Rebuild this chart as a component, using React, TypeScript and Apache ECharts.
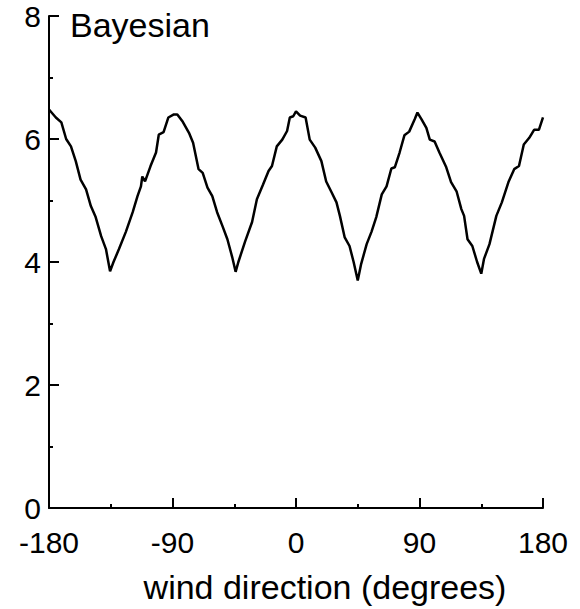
import React, { useEffect, useRef } from "react";
import * as echarts from "echarts";

const windDirection = [
  -180, -175, -171, -167.5, -164, -160.5, -157, -153, -149.5, -146, -142, -138.5, -135.5, -133,
  -129, -124, -119, -115.5, -113, -112, -110, -106, -102, -100, -96.5, -93, -89, -86.5, -82.5,
  -78, -75, -71, -68, -64.5, -61, -57.5, -53.5, -50, -46.5, -44, -42, -37, -32, -28.5, -24, -20,
  -17.5, -14, -10, -6.5, -4.5, -2, 0, 3, 7, 10, 14, 18.5, 22, 26, 29.5, 32, 35.5, 39, 42, 45,
  47.5, 51.5, 55, 58.5, 62.5, 66, 69.5, 72, 75.5, 79, 82.5, 86.5, 88.5, 91.5, 95, 97.5, 101,
  104.5, 109.5, 113, 117, 120.5, 122.5, 125, 128.5, 132, 135, 137, 141, 146, 150, 155, 159,
  162.5, 166, 170, 173.5, 177, 180,
];

const bayesianValue = [
  6.48, 6.35, 6.27, 6.0, 5.88, 5.64, 5.34, 5.18, 4.91, 4.73, 4.42, 4.21, 3.85, 4.0,
  4.21, 4.49, 4.81, 5.07, 5.23, 5.39, 5.31, 5.56, 5.78, 6.07, 6.11, 6.35, 6.4, 6.4, 6.28,
  6.1, 5.94, 5.51, 5.45, 5.21, 5.07, 4.81, 4.58, 4.37, 4.08, 3.84, 4.0, 4.34, 4.65, 5.02, 5.26, 5.48,
  5.56, 5.88, 5.99, 6.13, 6.35, 6.37, 6.45, 6.38, 6.35, 5.99, 5.86, 5.64, 5.31, 5.13, 4.97, 4.75, 4.4, 4.26, 4.0, 3.7,
  3.97, 4.29, 4.49, 4.73, 5.1, 5.23, 5.52, 5.54, 5.78, 6.06, 6.12, 6.32, 6.43, 6.32, 6.18, 5.99, 5.96,
  5.78, 5.54, 5.3, 5.15, 4.86, 4.75, 4.37, 4.26, 4.0, 3.81, 4.05, 4.29, 4.75, 4.97, 5.31, 5.51,
  5.56, 5.91, 6.02, 6.15, 6.15, 6.35,
];

const xTicks = { min: -180, max: 180, interval: 90 };
const yTicks = { min: 0, max: 8, interval: 2 };

const panelTitle = "Bayesian";
const xAxisTitle = "wind direction (degrees)";

const FONT = "'Liberation Sans', Arial, Helvetica, sans-serif";

export default function App() {
  const ref = useRef<HTMLDivElement>(null);

  useEffect(() => {
    if (!ref.current) return;
    const chart = echarts.init(ref.current, undefined, { renderer: "svg" });
    const data = windDirection.map((d, i) => [d, bayesianValue[i]]);
    const axisCommon = {
      axisLine: { show: true, onZero: false, lineStyle: { color: "#000", width: 2 } },
      axisTick: { show: true, inside: true, length: 10, lineStyle: { color: "#000", width: 2 } },
      minorTick: { show: true, splitNumber: 2, length: 4, lineStyle: { color: "#000", width: 2 } },
      splitLine: { show: false },
      minorSplitLine: { show: false },
    };
    chart.setOption({
      animation: false,
      backgroundColor: "#fff",
      grid: { left: 49, right: 37, top: 16, bottom: 99, containLabel: false },
      xAxis: {
        type: "value",
        ...xTicks,
        ...axisCommon,
        axisLabel: { fontSize: 30, color: "#000", margin: 19, fontFamily: FONT },
        name: xAxisTitle,
        nameLocation: "middle",
        nameGap: 62,
        nameTextStyle: { fontSize: 34, color: "#000", fontFamily: FONT, padding: [0, 0, 0, 58] },
      },
      yAxis: {
        type: "value",
        ...yTicks,
        ...axisCommon,
        axisLabel: { fontSize: 30, color: "#000", margin: 8, fontFamily: FONT },
      },
      graphic: [
        {
          type: "text",
          left: 70,
          top: 8,
          style: { text: panelTitle, fontSize: 34, fill: "#000", fontFamily: FONT },
        },
      ],
      series: [
        {
          type: "line",
          data,
          showSymbol: false,
          smooth: false,
          lineStyle: { color: "#000", width: 2.5 },
        },
      ],
    });
    return () => chart.dispose();
  }, []);

  return (
    <div
      ref={ref}
      style={{ position: "fixed", left: 0, top: 0, width: 580, height: 609, background: "#fff" }}
    />
  );
}
